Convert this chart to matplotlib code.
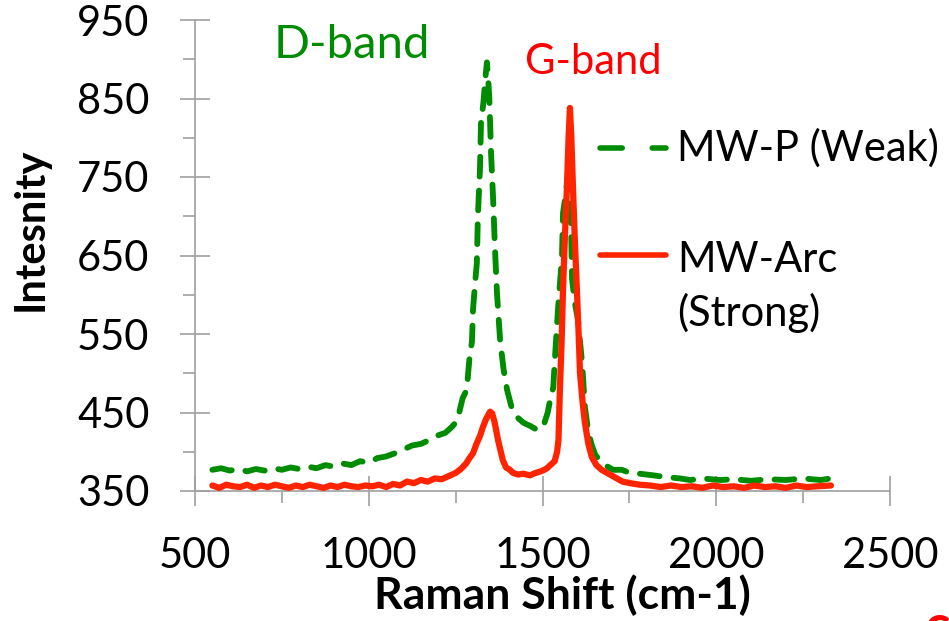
"""
raman_compare.py
Raman spectra of MW-P (weak) and MW-Arc (strong) samples, D and G bands
"""

import numpy as np
import matplotlib
matplotlib.use('Agg')
import matplotlib.pyplot as plt
from matplotlib.lines import Line2D
from matplotlib.ticker import MultipleLocator

plt.rcParams['font.family'] = ['Lato', 'DejaVu Sans']

# -------------------------------------------------------------------------
# spectra (Raman shift [cm-1], intensity [a.u.])
# -------------------------------------------------------------------------
shift_weak = [550, 575, 600, 625, 650, 675, 700, 725, 750, 775, 800, 825,
              850, 875, 900, 925, 950, 975, 1000, 1025, 1050, 1075, 1100,
              1125, 1150, 1175, 1200, 1220, 1240, 1255, 1270, 1282, 1290,
              1297, 1300, 1306, 1311, 1314, 1317, 1320, 1323, 1330, 1336,
              1340, 1343, 1347, 1352, 1358, 1363, 1369, 1378, 1388, 1398,
              1412, 1427, 1445, 1464, 1480, 1493, 1505, 1515, 1522, 1531,
              1536, 1545, 1556, 1559, 1566, 1572, 1578, 1582, 1585, 1593,
              1602, 1608, 1614, 1622, 1632, 1642, 1652, 1665, 1680, 1703,
              1728, 1752, 1780, 1818, 1850, 1896, 1925, 1960, 2011, 2050,
              2100, 2150, 2200, 2250, 2300, 2330]
int_weak = [377, 379, 376, 378, 375, 378, 376, 379, 377, 380, 378, 381,
            379, 383, 381, 385, 383, 388, 386, 392, 394, 398, 403,
            408, 410, 415, 421, 424, 432, 440, 468, 479, 520,
            540, 581, 615, 640, 699, 730, 759, 819, 845, 878,
            896, 880, 850, 780, 721, 661, 602, 542, 505, 479,
            455, 444, 437, 433, 429, 428, 436, 450, 466, 482,
            521, 584, 648, 704, 725, 748, 740, 690, 620, 590,
            568, 540, 513, 457, 425, 408, 396, 389, 383, 377,
            377, 373, 372, 370, 368, 366, 364, 366, 364, 365,
            363, 365, 364, 366, 364, 366]

shift_strong = [550, 570, 590, 610, 630, 650, 670, 690, 710, 730, 750, 770,
                790, 810, 830, 850, 870, 890, 910, 930, 950, 970, 990, 1010,
                1030, 1050, 1070, 1090, 1110, 1130, 1150, 1170, 1190, 1210,
                1230, 1250, 1265, 1280, 1290, 1300, 1310, 1320, 1329, 1338,
                1349, 1355, 1362, 1372, 1380, 1386, 1395, 1406, 1415, 1430,
                1445, 1464, 1480, 1495, 1505, 1513, 1525, 1535, 1542, 1546,
                1550, 1555, 1559, 1565, 1570, 1575, 1579, 1583, 1588, 1593,
                1599, 1604, 1608, 1615, 1622, 1632, 1642, 1655, 1670, 1686,
                1710, 1730, 1752, 1780, 1810, 1840, 1870, 1900, 1930, 1960,
                1990, 2020, 2050, 2080, 2110, 2140, 2170, 2200, 2230, 2260,
                2290, 2330]
int_strong = [357, 354, 358, 356, 355, 358, 354, 357, 355, 358, 356, 354,
              357, 355, 358, 356, 354, 357, 355, 358, 356, 355, 357, 356,
              358, 355, 359, 357, 362, 360, 364, 362, 366, 365,
              369, 373, 378, 385, 392, 398, 410, 420, 432, 442,
              451, 449, 438, 415, 400, 389, 380, 377, 373, 371,
              372, 370, 373, 375, 377, 379, 384, 388, 400, 415,
              479, 540, 606, 680, 733, 800, 838, 800, 733, 670,
              606, 550, 500, 465, 437, 410, 393, 383, 377, 373,
              367, 362, 360, 358, 357, 355, 357, 355, 356, 354,
              357, 355, 356, 354, 357, 355, 356, 354, 357, 355,
              356, 357]

green = '#008C00'
red = '#FF2400'
grey = '#A0A0A0'

# -------------------------------------------------------------------------
# figure
# -------------------------------------------------------------------------
fig = plt.figure(figsize=(9.49, 6.21), dpi=100)
ax = fig.add_axes([195/949, 130/621, 695/949, 471/621])

ax.plot(shift_weak, int_weak, color=green, lw=4.2, ls=(0, (3.4, 2.4)),
        dash_capstyle='round', solid_joinstyle='round', zorder=2)
ax.plot(shift_strong, int_strong, color=red, lw=4.5,
        solid_capstyle='round', solid_joinstyle='round', zorder=3)

ax.set_xlim(500, 2500)
ax.set_ylim(350, 950)
ax.xaxis.set_major_locator(MultipleLocator(500))
ax.xaxis.set_minor_locator(MultipleLocator(250))
ax.set_yticks(np.arange(350, 951, 100))
ax.set_yticks(np.arange(400, 901, 100), minor=True)

for s in ['top', 'right']:
    ax.spines[s].set_visible(False)
for s in ['left', 'bottom']:
    ax.spines[s].set_color(grey)
    ax.spines[s].set_linewidth(1.2)

ax.tick_params(which='major', direction='inout', length=21.6, width=1.2,
               color=grey, labelsize=30, pad=22)
ax.tick_params(which='minor', direction='out', length=8.5, width=1.2,
               color=grey)

ax.set_xlabel('Raman Shift (cm-1)', fontsize=32, fontweight='bold', labelpad=0)
ax.set_ylabel('Intesnity', fontsize=30, fontweight='bold', labelpad=20)
ax.xaxis.label.set_x(0.528)
ax.yaxis.label.set_y(0.555)

ax.text(952, 918, 'D-band', color=green, fontsize=34, ha='center', va='center')
ax.text(1645, 896, 'G-band', color='#FF0000', fontsize=30, ha='center', va='center')

# legend drawn by hand so the key sits on the first label line
fig.add_artist(Line2D([600/949, 666/949], [1 - 148/621] * 2, color=green,
                      lw=4.0, ls=(0, (4.0, 5.4)), dash_capstyle='round'))
fig.add_artist(Line2D([600/949, 666/949], [1 - 255/621] * 2, color=red,
                      lw=4.0, solid_capstyle='round'))
fig.text(677/949, 1 - 148/621, 'MW-P (Weak)', fontsize=30, va='center')
fig.text(677/949, 1 - 260/621, 'MW-Arc', fontsize=30, va='center')
fig.text(677/949, 1 - 313/621, '(Strong)', fontsize=30, va='center')

fig.text(924/949, 1 - 603/621, 'c', color='#FF0000', fontsize=38,
         fontweight='bold', va='top')

fig.savefig('out.png', dpi=100)
